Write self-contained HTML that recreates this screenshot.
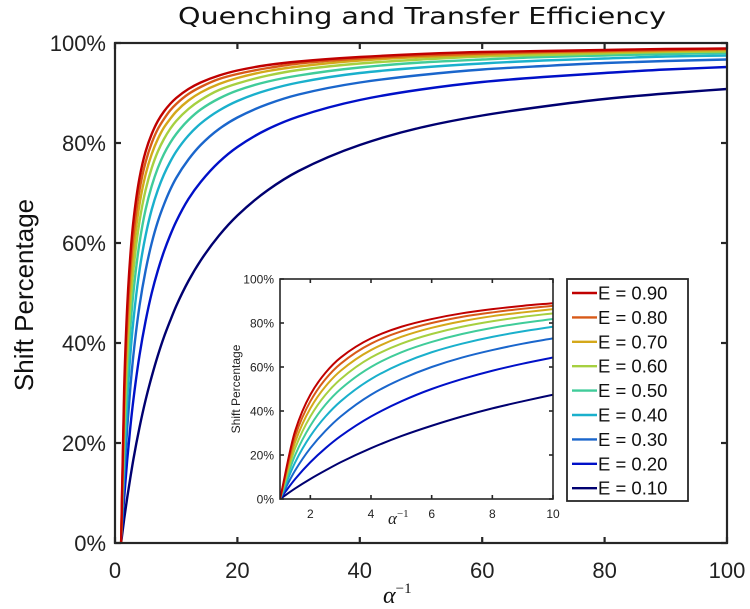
<!DOCTYPE html>
<html><head><meta charset="utf-8"><style>
html,body{margin:0;padding:0;background:#fff;}
svg{display:block;font-family:"Liberation Sans",sans-serif;}
</style></head><body>
<svg id="chart" width="750" height="609" viewBox="0 0 750 609" xmlns="http://www.w3.org/2000/svg">
<rect width="750" height="609" fill="#fff"/>
<text x="422" y="24" font-size="23" font-family="DejaVu Sans,sans-serif" text-anchor="middle" textLength="488" lengthAdjust="spacingAndGlyphs" fill="#111">Quenching and Transfer Efficiency</text>
<text transform="translate(33,295) rotate(-90)" font-size="26" text-anchor="middle" fill="#111">Shift Percentage</text>
<text x="383" y="603" font-size="24" font-family="Liberation Serif,serif" font-style="italic" fill="#111">α<tspan font-size="15" dy="-10" font-style="normal">−1</tspan></text>
<g id="main"></g>
<g id="inset"></g>
<g id="legend"></g>
</svg>
<script>
const xs = [1,1.5,2,2.5,3,4,5,6,7,8,9,10,12,14,17,20,25,30,40,50,60,70,80,90,100];
const seriesLabels = ["E = 0.90","E = 0.80","E = 0.70","E = 0.60","E = 0.50","E = 0.40","E = 0.30","E = 0.20","E = 0.10"];
const colors = ["#c00000","#d85a18","#d4a81a","#a6d040","#40cc9a","#1ab0cc","#1a66cc","#0010c8","#000070"];
const yE90 = [0,31.0,47.4,57.4,64.3,73.0,78.3,81.8,84.4,86.3,87.8,89.0,90.8,92.1,93.5,94.5,95.6,96.3,97.2,97.8,98.2,98.4,98.6,98.8,98.9];
const yE80 = [0,28.6,44.4,54.5,61.5,70.6,76.2,80.0,82.8,84.8,86.5,87.8,89.8,91.2,92.8,93.8,95.0,95.9,96.9,97.5,97.9,98.2,98.4,98.6,98.8];
const yE70 = [0,25.9,41.2,51.2,58.3,67.7,73.7,77.8,80.8,83.1,84.8,86.3,88.5,90.1,91.8,93.0,94.4,95.3,96.5,97.2,97.6,98.0,98.2,98.4,98.6];
const yE60 = [0,23.1,37.5,47.4,54.5,64.3,70.6,75.0,78.3,80.8,82.8,84.4,86.8,88.6,90.6,91.9,93.5,94.6,95.9,96.7,97.3,97.6,97.9,98.2,98.3];
const yE50 = [0,20.0,33.3,42.9,50.0,60.0,66.7,71.4,75.0,77.8,80.0,81.8,84.6,86.7,88.9,90.5,92.3,93.5,95.1,96.1,96.7,97.2,97.5,97.8,98.0];
const yE40 = [0,16.7,28.6,37.5,44.4,54.5,61.5,66.7,70.6,73.7,76.2,78.3,81.5,83.9,86.5,88.4,90.6,92.1,94.0,95.1,95.9,96.5,96.9,97.3,97.5];
const yE30 = [0,13.0,23.1,31.0,37.5,47.4,54.5,60.0,64.3,67.7,70.6,73.0,76.7,79.6,82.8,85.1,87.8,89.7,92.1,93.6,94.7,95.4,96.0,96.4,96.7];
const yE20 = [0,9.1,16.7,23.1,28.6,37.5,44.4,50.0,54.5,58.3,61.5,64.3,68.8,72.2,76.2,79.2,82.8,85.3,88.6,90.7,92.2,93.2,94.0,94.7,95.2];
const yE10 = [0,4.8,9.1,13.0,16.7,23.1,28.6,33.3,37.5,41.2,44.4,47.4,52.4,56.5,61.5,65.5,70.6,74.4,79.6,83.1,85.5,87.3,88.8,89.9,90.8];
const seriesValues = [yE90,yE80,yE70,yE60,yE50,yE40,yE30,yE20,yE10];
const mainXTicks = [0,20,40,60,80,100];
const mainYTicks = [0,20,40,60,80,100];
const insetXTicks = [2,4,6,8,10];
const insetYTicks = [0,20,40,60,80,100];

const NS="http://www.w3.org/2000/svg";
function mk(tag,attrs,parent){const e=document.createElementNS(NS,tag);for(const k in attrs)e.setAttribute(k,attrs[k]);parent.appendChild(e);return e;}

// monotone cubic (Fritsch-Carlson) in data space, emitted as bezier through scales
function monoPath(X,Y,sx,sy){
  const n=X.length;const d=[],m=new Array(n);
  for(let i=0;i<n-1;i++)d.push((Y[i+1]-Y[i])/(X[i+1]-X[i]));
  m[0]=d[0];m[n-1]=d[n-2];
  for(let i=1;i<n-1;i++){
    if(d[i-1]*d[i]<=0)m[i]=0;
    else{const h0=X[i]-X[i-1],h1=X[i+1]-X[i];const w1=2*h1+h0,w2=h1+2*h0;m[i]=(w1+w2)/(w1/d[i-1]+w2/d[i]);}
  }
  let p="M"+sx(X[0]).toFixed(2)+","+sy(Y[0]).toFixed(2);
  for(let i=0;i<n-1;i++){
    const h=X[i+1]-X[i];
    p+="C"+sx(X[i]+h/3).toFixed(2)+","+sy(Y[i]+m[i]*h/3).toFixed(2)+" "+sx(X[i+1]-h/3).toFixed(2)+","+sy(Y[i+1]-m[i+1]*h/3).toFixed(2)+" "+sx(X[i+1]).toFixed(2)+","+sy(Y[i+1]).toFixed(2);
  }
  return p;
}

function drawAxes(g,cfg){
  const sx=v=>cfg.L+(v-cfg.x0)/(cfg.x1-cfg.x0)*(cfg.R-cfg.L);
  const sy=v=>cfg.B-(v-cfg.y0)/(cfg.y1-cfg.y0)*(cfg.B-cfg.T);
  const cp=mk("clipPath",{id:cfg.id+"-clip"},g);
  mk("rect",{x:cfg.L,y:cfg.T-3,width:cfg.R-cfg.L,height:cfg.B-cfg.T+3},cp);
  const lines=mk("g",{"clip-path":"url(#"+cfg.id+"-clip)"},g);
  for(let s=seriesValues.length-1;s>=0;s--){
    const X=[],Y=[];
    for(let i=0;i<xs.length;i++){ if(xs[i]<=cfg.x1+1e-9){X.push(xs[i]);Y.push(seriesValues[s][i]);} }
    const p=mk("path",{d:monoPath(X,Y,sx,sy),fill:"none",stroke:colors[s],"stroke-width":cfg.lw,"stroke-linejoin":"round"},lines);
    
    
  }
  mk("rect",{x:cfg.L,y:cfg.T,width:cfg.R-cfg.L,height:cfg.B-cfg.T,fill:"none",stroke:"#262626","stroke-width":cfg.aw},g);
  cfg.xt.forEach(v=>{
    const x=sx(v);
    mk("line",{x1:x,y1:cfg.B,x2:x,y2:cfg.B-cfg.tl,stroke:"#262626","stroke-width":cfg.aw},g);
    mk("line",{x1:x,y1:cfg.T,x2:x,y2:cfg.T+cfg.tl,stroke:"#262626","stroke-width":cfg.aw},g);
    const t=mk("text",{x:x,y:cfg.B+cfg.xo,"font-size":cfg.fs,"text-anchor":"middle",fill:"#222"},g);
    t.textContent=v;
    
    
  });
  cfg.yt.forEach(v=>{
    const y=sy(v);
    mk("line",{x1:cfg.L,y1:y,x2:cfg.L+cfg.tl,y2:y,stroke:"#262626","stroke-width":cfg.aw},g);
    mk("line",{x1:cfg.R,y1:y,x2:cfg.R-cfg.tl,y2:y,stroke:"#262626","stroke-width":cfg.aw},g);
    const t=mk("text",{x:cfg.L-cfg.yo,y:y+cfg.fs*0.36,"font-size":cfg.fs,"text-anchor":"end",fill:"#222"},g);
    t.textContent=v+"%";
    
    
  });
}

const main=document.getElementById("main");


drawAxes(main,{id:"main",L:115,R:727,T:43,B:543,x0:0,x1:100,y0:0,y1:100,xt:mainXTicks,yt:mainYTicks,lw:2.4,aw:2.2,tl:6,fs:22,xo:35,yo:9});

const inset=document.getElementById("inset");


mk("rect",{x:236,y:268,width:324,height:262,fill:"#fff"},inset);
drawAxes(inset,{id:"inset",L:280,R:553,T:279,B:499,x0:1,x1:10,y0:0,y1:100,xt:insetXTicks,yt:insetYTicks,lw:2,aw:1.6,tl:4,fs:12,xo:19,yo:6});
const il=mk("g",{},inset);


const ilt=mk("text",{transform:"translate(240,389) rotate(-90)","font-size":12,"text-anchor":"middle",fill:"#222"},il);
ilt.textContent="Shift Percentage";
const ixt=mk("text",{x:388,y:524,"font-size":17,"font-family":"Liberation Serif,serif","font-style":"italic",fill:"#222"},inset);


ixt.textContent="α";
const sup=mk("tspan",{"font-size":11,dy:-7,"font-style":"normal"},ixt);sup.textContent="−1";

const leg=document.getElementById("legend");


mk("rect",{x:567,y:279,width:121,height:222,fill:"#fff",stroke:"#262626","stroke-width":1.8},leg);
seriesLabels.forEach((lab,i)=>{
  const y=293+i*24.4;
  const e=mk("g",{},leg);
  
  
  mk("line",{x1:572,y1:y,x2:597,y2:y,stroke:colors[i],"stroke-width":2.4},e);
  const t=mk("text",{x:598,y:y+6.5,"font-size":18.5,fill:"#111"},e);
  t.textContent=lab;
});
</script>
</body></html>
